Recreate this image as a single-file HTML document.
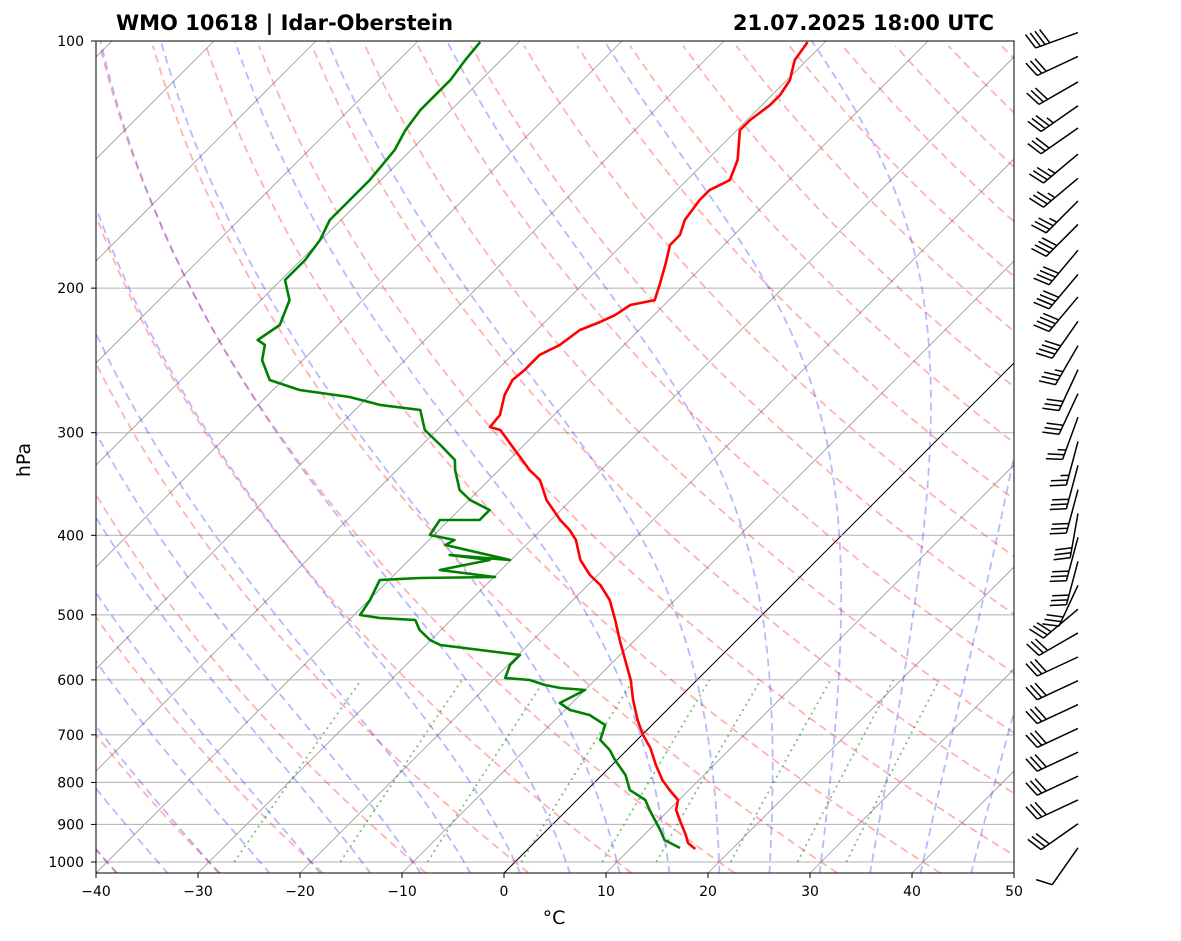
<!DOCTYPE html>
<html><head><meta charset="utf-8"><style>
body{margin:0;background:#fff;}
svg{display:block;font-family:"DejaVu Sans","Liberation Sans",sans-serif;}
</style></head><body>
<svg id="chart" width="1181" height="941" viewBox="0 0 1181 941">
<defs><clipPath id="plotclip"><rect x="96" y="41" width="918" height="832"/></clipPath></defs>
<rect width="1181" height="941" fill="#fff"/>
<g id="bg" clip-path="url(#plotclip)"></g>
<g id="series" clip-path="url(#plotclip)"></g>
<rect x="96" y="41" width="918" height="832" fill="none" stroke="#000" stroke-width="1"/>
<g id="axes"></g>
<g id="barbs"></g>
<text x="116" y="30" font-size="21" font-weight="bold">WMO 10618 | Idar-Oberstein</text>
<text x="994" y="30" font-size="21" font-weight="bold" text-anchor="end">21.07.2025 18:00 UTC</text>
<text x="554" y="924" font-size="19" text-anchor="middle">°C</text>
<text x="30" y="460" font-size="19" text-anchor="middle" transform="rotate(-90 30 460)">hPa</text>
</svg>
<script>
// ---- data ----
const tempPx = [[695,849],[688,843],[686,835],[680,822],[676,810],[678,800],[670,790],[662,780],[656,765],[650,748],[643,735],[638,720],[633,700],[631,680],[625,660],[620,640],[615,620],[610,600],[600,585],[590,575],[580,560],[576,540],[570,530],[560,520],[547,500],[540,480],[530,470],[515,450],[500,430],[490,427],[500,415],[505,395],[512,380],[525,370],[535,360],[540,355],[560,345],[580,330],[600,322],[615,315],[630,305],[655,300],[660,285],[665,265],[670,245],[680,235],[685,220],[700,200],[710,190],[730,180],[738,160],[740,130],[750,120],[770,105],[780,95],[790,80],[795,60],[808,42]];
const dewPx = [[680,848],[665,840],[660,830],[655,820],[650,810],[645,800],[630,790],[625,775],[615,760],[610,750],[600,740],[605,725],[590,715],[570,710],[560,703],[585,690],[560,688],[545,685],[530,680],[505,678],[510,665],[520,655],[480,650],[440,645],[430,640],[420,630],[415,620],[380,618],[360,615],[370,600],[375,590],[380,580],[420,578],[495,577],[440,570],[490,560],[450,555],[510,560],[445,545],[455,540],[430,535],[440,520],[480,520],[490,510],[470,500],[460,490],[455,470],[455,460],[440,445],[425,430],[420,410],[380,405],[350,397],[300,390],[270,380],[262,360],[265,345],[258,340],[280,325],[290,300],[285,280],[305,260],[320,240],[330,220],[350,200],[370,180],[395,150],[405,130],[420,110],[435,95],[450,80],[465,60],[480,42]];
function pxToPT(pt){const p=100*Math.pow(10,(pt[1]-41)/821);const T=(pt[0]-96)/10.2-40-(873-pt[1])/10.2;return [Math.round(p*10)/10,Math.round(T*10)/10];}
const tempData = tempPx.map(pxToPT);
const dewData = dewPx.map(pxToPT);
const pTicks = [100,200,300,400,500,600,700,800,900,1000];
const tTicks = [-40,-30,-20,-10,0,10,20,30,40,50];
const barbP = [101,108,116,124,132,142,152,162,173,186,199,212,227,243,260,278,297,318,340,364,389,416,445,476,509,544,582,622,665,711,760,813,869,929,994];
const barbSpd = [40,30,30,35,30,35,35,35,40,40,40,40,40,35,30,30,25,25,30,30,30,30,30,30,30,30,30,30,30,30,30,30,30,30,10];
const barbDir = [250,245,240,235,235,230,230,225,225,220,220,220,215,210,205,205,200,195,195,195,190,195,195,205,230,240,245,245,245,245,245,245,245,235,215];

// ---- axis functions ----
const Y0=41, DEC=821, YB=873;
function yOf(p){return Y0+DEC*Math.log10(p/100);}
function xOf(T,p){return 96+(T+40)*10.2+(YB-yOf(p));}
const NS="http://www.w3.org/2000/svg";
function mk(tag,attrs,parent){const e=document.createElementNS(NS,tag);for(const k in attrs)e.setAttribute(k,attrs[k]);parent.appendChild(e);return e;}
const bg=document.getElementById('bg'), ser=document.getElementById('series'), ax=document.getElementById('axes'), bb=document.getElementById('barbs');
function pathFrom(pts){return pts.map((q,i)=>(i?'L':'M')+xOf(q[1],q[0]).toFixed(1)+','+yOf(q[0]).toFixed(1)).join('');}
const pBot=100*Math.pow(10,(YB-Y0)/DEC);

for(let T=-140;T<=50;T+=10){
  const l=mk('path',{d:pathFrom([[pBot,T],[100,T]]),stroke:T===0?'#000':'#999',fill:'none','stroke-width':T===0?1:0.8},bg);
  
  
}
pTicks.forEach(p=>{
  const l=mk('line',{x1:96,x2:1014,y1:yOf(p),y2:yOf(p),stroke:'#b0b0b0','stroke-width':1},bg);
  
  
});
for(let t0=-40;t0<=200;t0+=10){
  const pts=[];for(let p=pBot;p>=99;p-=10){pts.push([p,(t0+273.15)*Math.pow(p/1000,0.2857)-273.15]);}
  const l=mk('path',{d:pathFrom(pts),stroke:'#ff0000','stroke-opacity':0.3,fill:'none','stroke-width':1.8,'stroke-dasharray':'8,5'},bg);
  
  
}
function es(Tc){return 6.112*Math.exp(17.67*Tc/(Tc+243.5));}
function dTdp(T,p){const Tc=T-273.15,e=es(Tc),rs=0.622*e/(p-e),Rd=287,Lv=2.501e6,cp=1005;return (Rd*T+Lv*rs)/(cp+Lv*Lv*rs*0.622/(Rd*T*T))/p;}
for(let t0=-40;t0<=50;t0+=5){
  let pts=[];let T=t0+273.15;
  for(let p=1000;p>100;p-=2){pts.push([p,T-273.15]);T-=dTdp(T,p)*2;}
  pts.push([100,T-273.15]);
  let T2=t0+273.15;const down=[];for(let p=1000;p<pBot+2;p+=2){T2+=dTdp(T2,p)*2;down.push([p+2,T2-273.15]);}
  pts=down.reverse().concat(pts);
  const l=mk('path',{d:pathFrom(pts),stroke:'#0000ff','stroke-opacity':0.28,fill:'none','stroke-width':1.8,'stroke-dasharray':'8,5'},bg);
  
  
}
[0.0004,0.001,0.002,0.004,0.007,0.01,0.016,0.024,0.032].forEach(w=>{
  const pts=[];for(let p=1000;p>=600;p-=20){const e=w*p/(0.622+w),L=Math.log(e/6.112);pts.push([p,243.5*L/(17.67-L)]);}
  const l=mk('path',{d:pathFrom(pts),stroke:'#008000','stroke-opacity':0.5,fill:'none','stroke-width':1.8,'stroke-dasharray':'2,4'},bg);
  
  
});
const tl=mk('path',{d:pathFrom(tempData),stroke:'#ff0000',fill:'none','stroke-width':2.6,'stroke-linejoin':'round'},ser);


const dl=mk('path',{d:pathFrom(dewData),stroke:'#008000',fill:'none','stroke-width':2.6,'stroke-linejoin':'round'},ser);


pTicks.forEach(p=>{
  const y=yOf(p);
  mk('line',{x1:91,x2:96,y1:y,y2:y,stroke:'#000'},ax);
  const t=mk('text',{x:84,y:y+5,'font-size':14,'text-anchor':'end'},ax);t.textContent=p;
  
  
});
tTicks.forEach(T=>{
  const x=96+(T+40)*10.2;
  mk('line',{x1:x,x2:x,y1:873,y2:878,stroke:'#000'},ax);
  const t=mk('text',{x:x,y:896,'font-size':14,'text-anchor':'middle'},ax);t.textContent=(T<0?'\u2212'+(-T):T);
  
  
});
barbP.forEach((p,i)=>{
  const bx=1078,by=yOf(p)-12,L=45,d=barbDir[i]*Math.PI/180;
  const ux=Math.sin(d),uy=-Math.cos(d);
  const tx=bx+ux*L,ty=by+uy*L;
  let s='M'+bx+','+by+'L'+tx.toFixed(1)+','+ty.toFixed(1);
  const fx=-uy,fy=ux;
  let spd=barbSpd[i],k=0;const fl=16;
  let full=Math.floor(spd/10),half=(spd%10)>=5?1:0;
  for(let j=0;j<full;j++){const px=tx-ux*k*5,py=ty-uy*k*5;s+='M'+px.toFixed(1)+','+py.toFixed(1)+'l'+(fx*fl+ux*5).toFixed(1)+','+(fy*fl+uy*5).toFixed(1);k++;}
  if(half){if(k===0)k=1;const px=tx-ux*k*5,py=ty-uy*k*5;s+='M'+px.toFixed(1)+','+py.toFixed(1)+'l'+(fx*fl/2+ux*2.5).toFixed(1)+','+(fy*fl/2+uy*2.5).toFixed(1);}
  const b=mk('path',{d:s,stroke:'#000',fill:'none','stroke-width':1.5},bb);
  
  
});
</script>
</body></html>
